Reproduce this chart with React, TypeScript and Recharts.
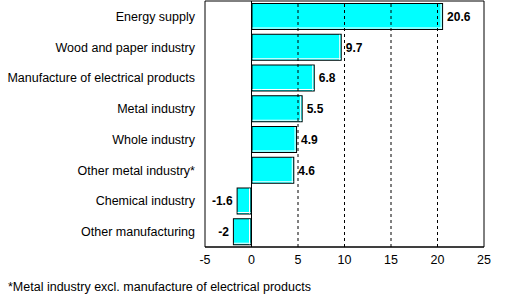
import {
  BarChart,
  Bar,
  XAxis,
  YAxis,
  ReferenceLine,
  ReferenceArea,
  LabelList,
} from "recharts";

const categories = [
  "Energy supply",
  "Wood and paper industry",
  "Manufacture of electrical products",
  "Metal industry",
  "Whole industry",
  "Other metal industry*",
  "Chemical industry",
  "Other manufacturing",
];
const values = [20.6, 9.7, 6.8, 5.5, 4.9, 4.6, -1.6, -2];
const xTicks = [-5, 0, 5, 10, 15, 20, 25];
const gridLines = [5, 10, 15, 20];
const footnote = "*Metal industry excl. manufacture of electrical products";

const data = categories.map((name, i) => ({ name, value: values[i] }));

const font = "'Liberation Sans', Arial, sans-serif";

// cyan bar with black outline and a thin white inner edge at bottom/right
const BarShape = (props: any) => {
  const { x, y, width, height } = props;
  const left = Math.min(x, x + width);
  const w = Math.abs(width);
  return (
    <g>
      <rect x={left + 0.5} y={y + 0.5} width={w - 1} height={height - 1} fill="#00FFFF" stroke="#000" strokeWidth={1} />
      <line x1={left + 1} x2={left + w - 1} y1={y + height - 2} y2={y + height - 2} stroke="#fff" strokeWidth={1} />
      <line x1={left + w - 2} x2={left + w - 2} y1={y + 1} y2={y + height - 1} stroke="#fff" strokeWidth={1} />
    </g>
  );
};

// single-line category label, right aligned
const CategoryTick = (props: any) => {
  const { x, y, payload } = props;
  return (
    <text x={x} y={y} dy="0.355em" textAnchor="end" fill="#000" fontSize={12.5} fontFamily={font}>
      {payload.value}
    </text>
  );
};

export default function App() {
  return (
    <div style={{ position: "absolute", left: 0, top: 0, width: 532, height: 298, background: "#fff", fontFamily: font }}>
      <BarChart
        width={532}
        height={298}
        data={data}
        layout="vertical"
        margin={{ top: 1, right: 48, bottom: 31, left: 0 }}
        barSize={27}
      >
        <XAxis
          type="number"
          domain={[-5, 25]}
          ticks={xTicks}
          tickLine={false}
          axisLine={{ stroke: "#000" }}
          height={20}
          tick={{ fill: "#000", fontSize: 12.5, fontFamily: font }}
          allowDataOverflow
        />
        <YAxis
          type="category"
          dataKey="name"
          width={205}
          tickLine={false}
          axisLine={false}
          tickMargin={4}
          interval={0}
          tick={<CategoryTick />}
        />
        <ReferenceArea x1={-5} x2={25} fill="none" stroke="#000" strokeWidth={1} ifOverflow="extendDomain" />
        {gridLines.map((g) => (
          <ReferenceLine key={g} x={g} stroke="#000" strokeDasharray="3 3" />
        ))}
        <Bar dataKey="value" shape={<BarShape />} isAnimationActive={false}>
          <LabelList
            dataKey="value"
            position="right"
            offset={4}
            style={{ fill: "#000", fontSize: 12, fontWeight: "bold", fontFamily: font }}
          />
        </Bar>
        <ReferenceLine x={0} stroke="#000" />
      </BarChart>
      <div style={{ position: "absolute", left: 8, top: 280, fontSize: 12.5, color: "#000", whiteSpace: "nowrap" }}>
        {footnote}
      </div>
    </div>
  );
}
